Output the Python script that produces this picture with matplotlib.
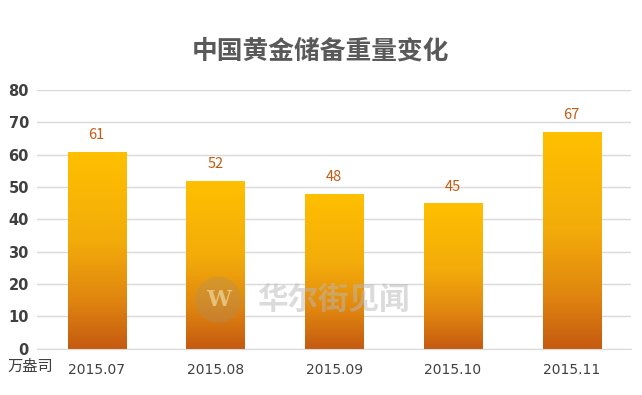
import numpy as np
import matplotlib.pyplot as plt
from matplotlib.colors import LinearSegmentedColormap
from matplotlib.patches import Ellipse

plt.rcParams['font.family'] = ['Noto Sans CJK SC', 'DejaVu Sans']

# data
months = ['2015.07', '2015.08', '2015.09', '2015.10', '2015.11']
reserve_change = [61, 52, 48, 45, 67]
y_ticks = [0, 10, 20, 30, 40, 50, 60, 70, 80]

fig = plt.figure(figsize=(6.42, 3.95), dpi=100)
ax = fig.add_axes([0.058, 0.117, 0.925, 0.655])

x = np.arange(len(months))
bars = ax.bar(x, reserve_change, width=0.49, color='none', zorder=2)

# vertical gradient inside each bar
cmap = LinearSegmentedColormap.from_list(
    'gold', [(0, '#C55A11'), (0.25, '#E0860F'), (0.55, '#F3AC0A'), (1, '#FFC000')])
grad = np.linspace(0, 1, 256).reshape(-1, 1)
for b in bars:
    x0, w, h = b.get_x(), b.get_width(), b.get_height()
    im = ax.imshow(grad, cmap=cmap, origin='lower', aspect='auto',
                   extent=[x0, x0 + w, 0, h], zorder=2)
    im.set_clip_path(b)

for xi, v in zip(x, reserve_change):
    ax.annotate(str(v), (xi, v), xytext=(0, 7), textcoords='offset points',
                ha='center', va='bottom', fontsize=10.5, color='#C55A11')

ax.set_xlim(-0.5, len(months) - 0.5)
ax.set_ylim(0, 80)
ax.set_yticks(y_ticks)
ax.set_yticklabels([str(t) for t in y_ticks], fontsize=10.5, fontweight='bold', color='#404040',
                   family='DejaVu Sans')
ax.set_xticks(x)
ax.set_xticklabels(months, fontsize=10, color='#404040', family='DejaVu Sans')
ax.tick_params(length=0, pad=6)
ax.tick_params(axis='x', pad=10)
ax.grid(axis='y', color='#D9D9D9', linewidth=1, zorder=0)
ax.set_axisbelow(True)
for s in ['top', 'right', 'left']:
    ax.spines[s].set_visible(False)
ax.spines['bottom'].set_color('#D9D9D9')

fig.text(0.5, 0.87, '中国黄金储备重量变化', ha='center', va='center',
         fontsize=18.5, fontweight='bold', color='#595959')
fig.text(0.012, 0.073, '万盎司', ha='left', va='center', fontsize=11, color='#404040')

# watermark
fig.patches.append(Ellipse((0.340, 0.241), 0.0717, 0.1165, transform=fig.transFigure,
                           facecolor='#B09060', alpha=0.35, zorder=5, figure=fig))
fig.text(0.340, 0.241, 'W', ha='center', va='center', fontsize=16, fontweight='bold',
         color='#F0D8A0', alpha=0.7, family='DejaVu Serif', zorder=6)
fig.text(0.400, 0.241, '华尔街见闻', ha='left', va='center', fontsize=22, fontweight='bold',
         color='#B8B8B8', alpha=0.5, zorder=6)

fig.savefig('out.png', dpi=100)
